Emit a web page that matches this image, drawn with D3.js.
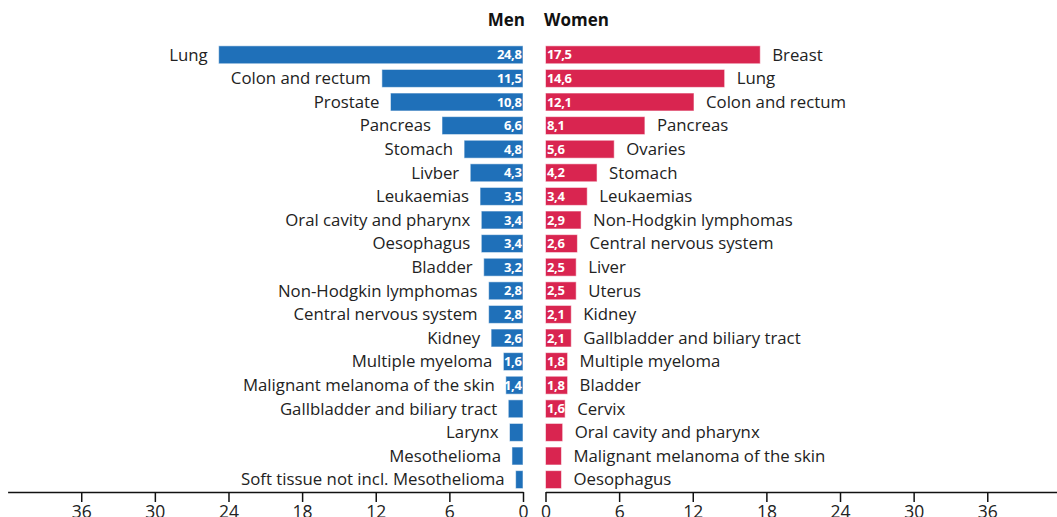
<!DOCTYPE html>
<html>
<head>
<meta charset="utf-8">
<script src="https://cdn.jsdelivr.net/npm/d3@7"></script>
<style>
  body { margin: 0; background: #fff; }
  svg { display: block; font-family: "Open Sans", sans-serif; }
  .cat { font-size: 16.8px; fill: #222; }
  .val { font-size: 13px; font-weight: bold; fill: #fff; letter-spacing: -0.35px; }
  .head { font-size: 17px; font-weight: bold; fill: #111; }
  .axis text { font-size: 17.5px; fill: #222; font-family: "Open Sans", sans-serif; }
</style>
</head>
<body>
<svg width="1057" height="517"></svg>
<script>
// data: deaths per 100 000, by sex
var menCauses = ["Lung", "Colon and rectum", "Prostate", "Pancreas", "Stomach", "Livber",
  "Leukaemias", "Oral cavity and pharynx", "Oesophagus", "Bladder", "Non-Hodgkin lymphomas",
  "Central nervous system", "Kidney", "Multiple myeloma", "Malignant melanoma of the skin",
  "Gallbladder and biliary tract", "Larynx", "Mesothelioma", "Soft tissue not incl. Mesothelioma"];
var menValues = [24.8, 11.5, 10.8, 6.6, 4.8, 4.3, 3.5, 3.4, 3.4, 3.2, 2.8, 2.8, 2.6, 1.6, 1.4, 1.2, 1.1, 0.9, 0.6];
var menLabelled = 15;

var womenCauses = ["Breast", "Lung", "Colon and rectum", "Pancreas", "Ovaries", "Stomach",
  "Leukaemias", "Non-Hodgkin lymphomas", "Central nervous system", "Liver", "Uterus", "Kidney",
  "Gallbladder and biliary tract", "Multiple myeloma", "Bladder", "Cervix",
  "Oral cavity and pharynx", "Malignant melanoma of the skin", "Oesophagus"];
var womenValues = [17.5, 14.6, 12.1, 8.1, 5.6, 4.2, 3.4, 2.9, 2.6, 2.5, 2.5, 2.1, 2.1, 1.8, 1.8, 1.6, 1.4, 1.3, 1.3];
var womenLabelled = 16;

var tickValues = [0, 6, 12, 18, 24, 30, 36];

var svg = d3.select("svg");
var axisY = 492;

var xLeft = d3.scaleLinear().domain([0, 42]).range([523, 7.6]);
var xRight = d3.scaleLinear().domain([0, 42]).range([545.5, 1060.9]);

var y = d3.scaleBand().domain(d3.range(menCauses.length))
    .range([43, 491.4]).paddingInner(0.24).paddingOuter(0.12);

var fmt = function(v) { return d3.format(".1f")(v).replace(".", ","); };

// headers
svg.append("text").attr("class", "head")
    .attr("x", 525).attr("y", 26).attr("text-anchor", "end").text("Men");
svg.append("text").attr("class", "head")
    .attr("x", 544).attr("y", 26).attr("text-anchor", "start").text("Women");

function side(causes, values, x, color, labelled, left) {
  var g = svg.append("g");
  var rows = g.selectAll("g").data(values).enter().append("g");

  rows.append("rect")
      .attr("x", function(d) { return left ? x(d) : x(0); })
      .attr("y", function(d, i) { return y(i); })
      .attr("width", function(d) { return Math.abs(x(d) - x(0)); })
      .attr("height", y.bandwidth())
      .attr("fill", color)
      .attr("stroke", "#fff").attr("stroke-opacity", 0.55).attr("stroke-width", 1);

  rows.filter(function(d, i) { return i < labelled; }).append("text")
      .attr("class", "val")
      .attr("x", left ? x(0) - 1.5 : x(0) + 1.5)
      .attr("y", function(d, i) { return y(i) + y.bandwidth() / 2; })
      .attr("dy", "0.36em")
      .attr("text-anchor", left ? "end" : "start")
      .text(fmt);

  rows.append("text")
      .attr("class", "cat")
      .attr("x", function(d) { return left ? x(d) - 11 : x(d) + 12; })
      .attr("y", function(d, i) { return y(i) + y.bandwidth() / 2; })
      .attr("dy", "0.35em")
      .attr("text-anchor", left ? "end" : "start")
      .text(function(d, i) { return causes[i]; });
}

side(menCauses, menValues, xLeft, "#1f70b9", menLabelled, true);
side(womenCauses, womenValues, xRight, "#d92550", womenLabelled, false);

// axes
svg.append("g").attr("class", "axis")
    .attr("transform", "translate(0," + axisY + ")")
    .call(d3.axisBottom(xLeft).tickValues(tickValues).tickSize(10).tickSizeOuter(0).tickPadding(4));
svg.append("g").attr("class", "axis")
    .attr("transform", "translate(0," + axisY + ")")
    .call(d3.axisBottom(xRight).tickValues(tickValues).tickSize(10).tickSizeOuter(0).tickPadding(4));

svg.selectAll(".axis .domain").attr("stroke", "#111").attr("stroke-width", 1.5);
svg.selectAll(".axis .tick line").attr("stroke", "#111").attr("stroke-width", 1.5);
</script>
</body>
</html>
